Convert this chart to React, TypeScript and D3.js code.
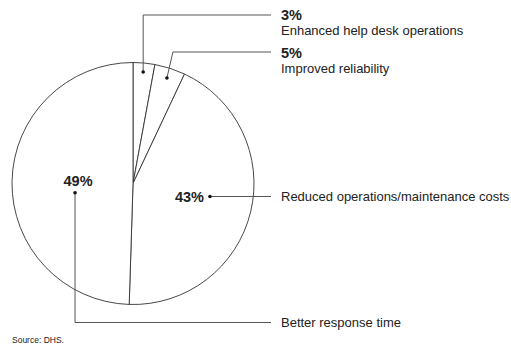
import React from "react";
import * as d3 from "d3";

const categories = [
  "Enhanced help desk operations",
  "Improved reliability",
  "Reduced operations/maintenance costs",
  "Better response time",
];
const values = [2.9, 4.1, 43.5, 49.5];
const valueLabels = ["3%", "5%", "43%", "49%"];
const source = "Source: DHS.";

const W = 511;
const H = 346;
const cx = 133;
const cy = 183.5;
const R = 121;

export default function App() {
  const pie = d3.pie<number>().sort(null).value((d) => d)(values);
  const arc = d3.arc<d3.PieArcDatum<number>>().innerRadius(0).outerRadius(R);
  const font = "Liberation Sans, Arial, Helvetica, sans-serif";
  const lineColor = "#555";
  const textColor = "#222";

  const pt = (i: number, frac: number, offDeg = 0) => {
    const a = (pie[i].startAngle + pie[i].endAngle) / 2 + (offDeg * Math.PI) / 180;
    return [cx + Math.sin(a) * R * frac, cy - Math.cos(a) * R * frac];
  };
  const d0 = pt(0, 0.925);
  const d1 = pt(1, 0.916);
  const d2 = pt(2, 0.645, -3.9);
  const d3p = pt(3, 0.485, -9.9);

  const textX = 281;
  const lineEnd = 271;
  const fs = 13;
  const bfs = 14.5;

  return (
    <svg width={W} height={H} style={{ position: "absolute", left: 0, top: 0, background: "#fff" }}>
      <g transform={`translate(${cx},${cy})`}>
        {pie.map((p, i) => (
          <path key={i} d={arc(p) || ""} fill="#fff" stroke="#333" strokeWidth={0.9} />
        ))}
      </g>
      <g fill="none" stroke={lineColor} strokeWidth={1}>
        <polyline points={`${d0[0]},${d0[1]} ${d0[0]},15 ${lineEnd},15`} />
        <polyline points={`${d1[0]},${d1[1]} ${d1[0] + 6},52 ${lineEnd},52`} />
        <line x1={d2[0]} y1={d2[1]} x2={lineEnd} y2={d2[1]} />
        <polyline points={`${d3p[0]},${d3p[1]} ${d3p[0]},322.5 ${lineEnd},322.5`} />
      </g>
      <g fill="#111">
        {[d0, d1, d2, d3p].map((d, i) => (
          <circle key={i} cx={d[0]} cy={d[1]} r={1.8} />
        ))}
      </g>
      <g fontFamily={font} fill={textColor}>
        <text x={textX} y={19.5} fontSize={bfs} fontWeight="bold">{valueLabels[0]}</text>
        <text x={textX} y={35} fontSize={fs}>{categories[0]}</text>
        <text x={textX} y={58} fontSize={bfs} fontWeight="bold">{valueLabels[1]}</text>
        <text x={textX} y={73} fontSize={fs}>{categories[1]}</text>
        <text x={d2[0] - 6} y={d2[1] + 5.5} fontSize={bfs} fontWeight="bold" textAnchor="end">{valueLabels[2]}</text>
        <text x={textX} y={d2[1] + 4.5} fontSize={fs}>{categories[2]}</text>
        <text x={d3p[0] + 3} y={186} fontSize={bfs} fontWeight="bold" textAnchor="middle">{valueLabels[3]}</text>
        <text x={textX} y={327} fontSize={fs}>{categories[3]}</text>
        <text x={12} y={343} fontSize={8.5}>{source}</text>
      </g>
    </svg>
  );
}
